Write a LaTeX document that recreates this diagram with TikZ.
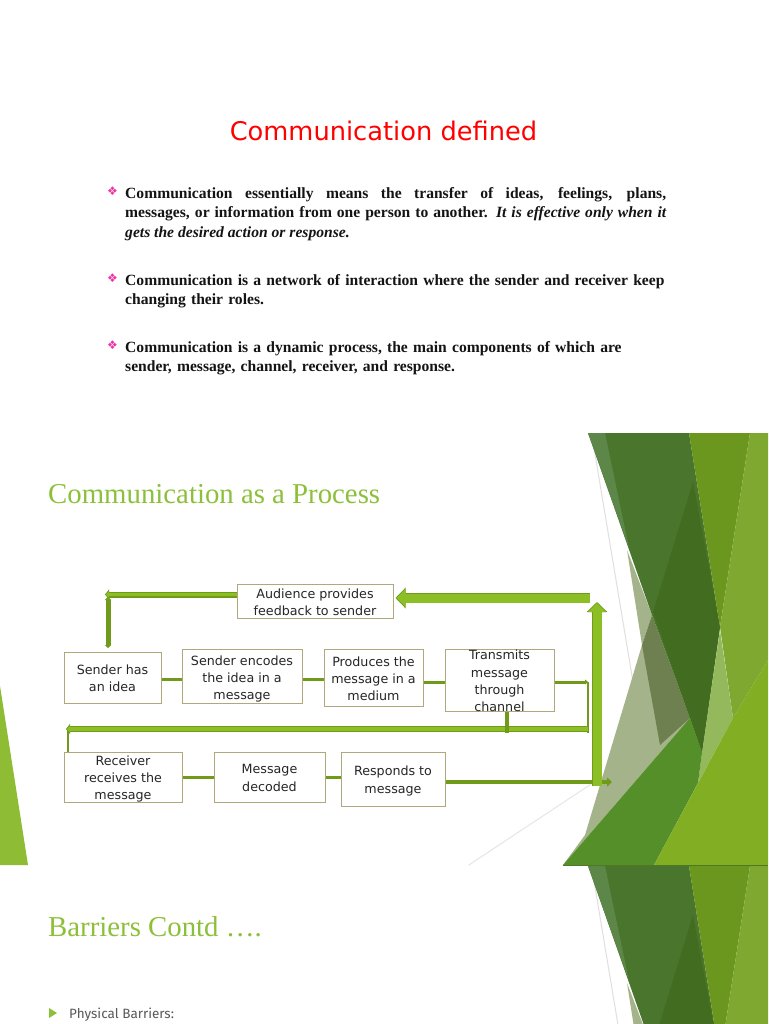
\documentclass[tikz,border=0pt]{standalone}
\usepackage{fontspec}
\setmainfont{Liberation Serif}
\newfontfamily\boxfont{DejaVu Sans}[Scale=0.94]
\newfontfamily\titlefont{DejaVu Sans}
\newfontfamily\listfont{Fira Sans}
\newfontfamily\symbolfont{DejaVu Sans}
\usetikzlibrary{arrows.meta}
\definecolor{barDark}{HTML}{6F9A1A}
\definecolor{barLight}{HTML}{8CBF26}
\definecolor{boxEdge}{HTML}{B0A87C}
\definecolor{headGreen}{HTML}{8DC03A}
\tikzset{
  x=1pt,y=-1pt,
  procbox/.style={draw=boxEdge,line width=1pt,fill=white,inner sep=0pt},
  boxlabel/.style={inner sep=0pt,align=center,
    font=\boxfont\fontsize{13.5}{17.2}\selectfont,text=black!85},
  link/.style={draw=barDark,line width=3pt},
  thinlink/.style={draw=barDark,line width=2.5pt},
  smallarrow/.style={draw=barDark,line width=6pt,-{Triangle[length=4pt,width=10pt,fill=barDark]}},
  smallarrowfill/.style={draw=barLight,line width=3.5pt,shorten >=1pt,-{Triangle[length=3pt,width=6pt,fill=barLight]}},
  bigarrowedge/.style={draw=barDark,line width=10.5pt,shorten >=2pt,-{Triangle[length=10pt,width=20pt,fill=barDark]}},
  bigarrowfill/.style={draw=barLight,line width=9pt,shorten >=3pt,-{Triangle[length=9pt,width=17pt,fill=barLight]}},
  bodytext/.style={anchor=north west,inner sep=0pt,text width=541pt,text=black!92,
    font=\fontsize{15.6}{19.5}\selectfont\bfseries},
  bullet/.style={inner sep=0pt,text=magenta!80!white,font=\symbolfont\fontsize{12}{12}\selectfont},
  heading/.style={anchor=base west,inner sep=0pt,text=headGreen,font=\fontsize{28.8}{30}\selectfont},
  facet/.style={draw=none},
}
% Faceted green artwork along the right side of a slide
\newcommand{\slideart}{%
  \fill[facet,color=white!75!gray] (593,445) -- (594,445) -- (664,865) -- (663,865) -- cycle;
  \fill[facet,color=white!80!gray] (468,865) -- (469,865.5) -- (690,719) -- (690,718) -- cycle;
  \fill[facet,color={rgb,255:red,165;green,179;blue,138}] (627,550) -- (652,615) -- (642,645) -- cycle;
  \fill[facet,color={rgb,255:red,165;green,179;blue,138}] (642,645) -- (690,718) -- (563,865) -- (585,835) -- cycle;
  \fill[facet,color={rgb,255:red,111;green,128;blue,80}] (652,615) -- (690,718) -- (660,745) -- (642,645) -- cycle;
  \fill[facet,color={rgb,255:red,74;green,117;blue,44}] (588,433) -- (689,433) -- (720,627) -- (702,753) -- (690,718) -- (652,615) -- cycle;
  \fill[facet,color={rgb,255:red,92;green,135;blue,72}] (588,433) -- (605,433) -- (629,548) -- cycle;
  \fill[facet,color={rgb,255:red,66;green,108;blue,31}] (693,482) -- (720,627) -- (702,753) -- (690,718) -- (653,612) -- cycle;
  \fill[facet,color={rgb,255:red,108;green,151;blue,31}] (689,433) -- (750,433) -- (720,627) -- cycle;
  \fill[facet,color={rgb,255:red,126;green,168;blue,47}] (750,433) -- (768,433) -- (768,660) -- (733,718) -- (720,627) -- cycle;
  \fill[facet,color={rgb,255:red,147;green,185;blue,92}] (720,630) -- (733,718) -- (698,783) -- (702,753) -- cycle;
  \fill[facet,color={rgb,255:red,84;green,143;blue,42}] (563,865) -- (690,718) -- (702,753) -- (698,783) -- (654,865) -- cycle;
  \fill[facet,color={rgb,255:red,130;green,174;blue,36}] (654,865) -- (733,718) -- (768,660) -- (768,865) -- cycle;
  \fill[facet,color={rgb,255:red,78;green,120;blue,36}] (563,865) rectangle (768,866);
}
\begin{document}
\begin{tikzpicture}
\useasboundingbox (0,0) rectangle (768,1024);
\fill[white] (0,0) rectangle (768,1024);

% Upper slide: definition and bullet list
\node[anchor=base,inner sep=0pt,text=red,font=\titlefont\fontsize{25.7}{28}\selectfont] (title) at (383.5,141) {Communication defined};

\node[bullet] (b1) at (112.5,191) {❖};
\node[bodytext,align=justify] (p1) at (125,187) {Communication essentially means the transfer of ideas, feelings, plans,\linebreak messages, or information from one person to another. \textit{It is effective only when it\linebreak gets the desired action or response.}};
\node[bullet] (b2) at (112.5,278) {❖};
\node[bodytext,align=left] (p2) at (125,274) {Communication is a network of interaction where the sender and receiver keep\\ changing their roles.};
\node[bullet] (b3) at (112.5,345) {❖};
\node[bodytext,align=left] (p3) at (125,341) {Communication is a dynamic process, the main components of which are\\ sender, message, channel, receiver, and response.};

% Middle slide: artwork
\slideart
\fill[color={rgb,255:red,143;green,188;blue,53}] (0,686) -- (28,865) -- (0,865) -- cycle;

% Lower slide: artwork repeated, cut off by the page edge
\begin{scope}
  \clip (0,866) rectangle (768,1024);
  \begin{scope}[yshift=-433pt]
    \slideart
  \end{scope}
\end{scope}

\node[heading] (h2) at (48,503) {Communication as a Process};
\node[heading] (h3) at (48,936) {Barriers Contd ….};
\fill[color=headGreen] (49,1008) -- (57,1013) -- (49,1018) -- cycle;
\node[anchor=base west,inner sep=0pt,text=black!65,font=\listfont\fontsize{13.5}{15}\selectfont] (l1) at (69,1018) {Physical Barriers:};

% Process boxes
\node[procbox,minimum width=156pt,minimum height=34pt,label={[boxlabel,yshift=-1pt]center:Audience provides\\feedback to sender}] (audience) at (315,601) {};
\node[procbox,minimum width=97pt,minimum height=51pt,label={[boxlabel,yshift=-1pt]center:Sender has\\an idea}] (idea) at (112.5,677.5) {};
\node[procbox,minimum width=120pt,minimum height=54pt,label={[boxlabel,yshift=-3pt]center:Sender encodes\\the idea in a\\message}] (encode) at (242,676) {};
\node[procbox,minimum width=99pt,minimum height=57pt,label={[boxlabel,yshift=-1.5pt]center:Produces the\\message in a\\medium}] (produce) at (373.5,677.5) {};
\node[procbox,minimum width=109pt,minimum height=62pt,label={[boxlabel,yshift=-1pt]center:Transmits\\message\\through\\channel}] (transmit) at (499.5,680) {};
\node[procbox,minimum width=118pt,minimum height=50pt,label={[boxlabel,yshift=-2pt]center:Receiver\\receives the\\message}] (receiver) at (123,777) {};
\node[procbox,minimum width=111pt,minimum height=50pt,label={[boxlabel,yshift=-1pt]center:Message\\decoded}] (decoded) at (269.5,777) {};
\node[procbox,minimum width=104pt,minimum height=54pt,label={[boxlabel,yshift=-2pt]center:Responds to\\message}] (responds) at (393,779) {};

% Free ends of the connectors
\coordinate (fbStart) at (590,598);
\coordinate (upStart) at (597,786);
\coordinate (upEnd) at (597,600);
\coordinate (corner) at (105,594.5);
\coordinate (turnA) at (588,682);
\coordinate (turnB) at (588,733);
\coordinate (busRight) at (588,729);
\coordinate (busLeft) at (66,729);
\coordinate (busDrop) at (507,733);
\coordinate (riseTop) at (68,730);
\coordinate (exitEnd) at (612,782);
\coordinate (cornerDown) at (108,597);
\coordinate (ideaTop) at (108,648);

% Plain links between neighbouring boxes
\draw[link] (idea.east |- 0,679) -- (encode.west |- 0,679);
\draw[link] (encode.east |- 0,679) -- (produce.west |- 0,679);
\draw[link] (produce.east |- 0,682) -- (transmit.west |- 0,682);
\draw[link] (receiver.east) -- (decoded.west);
\draw[link] (decoded.east) -- (responds.west |- decoded.east);

% Return path along the middle of the diagram
\draw[link,-{Triangle[length=3pt,width=5pt]}] (transmit.east |- turnA) -- (turnA);
\draw[thinlink] (turnA) -- (turnB);
\draw[thinlink] (receiver.north -| riseTop) -- (riseTop);
\draw[smallarrow] (busRight) -- (busLeft);
\draw[smallarrowfill] (busRight) -- (busLeft);
\draw[draw=barDark,line width=3.5pt] (transmit.south -| busDrop) -- (busDrop);

% Feedback path back to the sender
\draw[smallarrow] (audience.west |- corner) -- (corner);
\draw[smallarrowfill] (audience.west |- corner) -- (corner);
\draw[draw=barDark,line width=5pt,{Triangle[length=3pt,width=6pt]}-{Triangle[length=3pt,width=6pt]}] (cornerDown) -- (ideaTop);

% Response leaving the last box, and the large block arrows
\draw[draw=barDark,line width=4pt,-{Triangle[length=5pt,width=9pt]}] (responds.east |- exitEnd) -- (exitEnd);
\draw[bigarrowedge] (fbStart) -- (audience.east |- fbStart);
\draw[bigarrowfill] (fbStart) -- (audience.east |- fbStart);
\draw[bigarrowedge] (upStart) -- (upEnd);
\draw[bigarrowfill] (upStart) -- (upEnd);
\end{tikzpicture}
\end{document}
